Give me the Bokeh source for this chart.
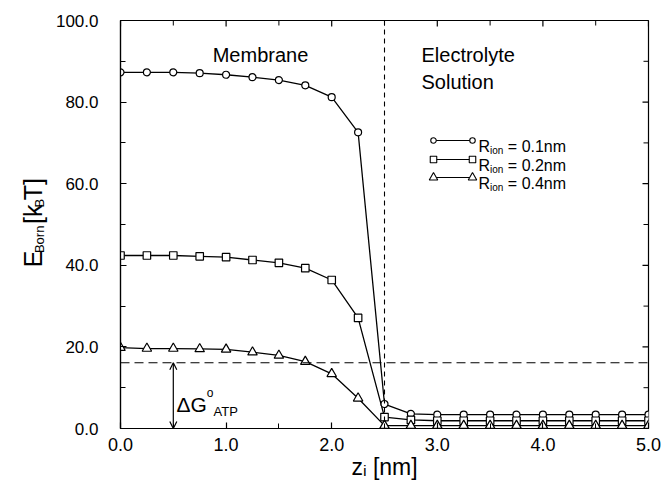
import math
from bokeh.plotting import figure
from bokeh.layouts import row
from bokeh.models import Label, Span, Arrow, OpenHead, SingleIntervalTicker, PrintfTickFormatter, Range1d
from bokeh.core.properties import value
from bokeh.embed import file_html
from bokeh.resources import INLINE

# ---------------- data ----------------
z_nm = [0.0, 0.25, 0.5, 0.75, 1.0, 1.25, 1.5, 1.75, 2.0, 2.25, 2.5,
        2.75, 3.0, 3.25, 3.5, 3.75, 4.0, 4.25, 4.5, 4.75, 5.0]
e_born_r01 = [87.3, 87.3, 87.3, 87.1, 86.7, 86.1, 85.4, 84.1, 81.2, 72.6, 6.0,
              3.6, 3.4, 3.4, 3.4, 3.4, 3.4, 3.4, 3.4, 3.4, 3.4]
e_born_r02 = [42.4, 42.4, 42.4, 42.2, 42.0, 41.3, 40.6, 39.3, 36.4, 27.1, 2.8,
              2.1, 1.9, 1.9, 1.9, 1.9, 1.9, 1.9, 1.9, 1.9, 1.9]
e_born_r04 = [19.8, 19.6, 19.6, 19.5, 19.4, 18.7, 17.9, 16.4, 13.4, 7.4, 0.7,
              0.7, 0.7, 0.7, 0.7, 0.7, 0.7, 0.7, 0.7, 0.7, 0.7]
series_radius = ["0.1nm", "0.2nm", "0.4nm"]
series_marker = ["circle", "square", "triangle"]
x_ticks_major = [0.0, 1.0, 2.0, 3.0, 4.0, 5.0]
x_ticks_minor = [0.5, 1.5, 2.5, 3.5, 4.5]
y_ticks_major = [0.0, 20.0, 40.0, 60.0, 80.0, 100.0]
y_ticks_minor = [10.0, 30.0, 50.0, 70.0, 90.0]
x_title = "zᵢ [nm]"
membrane_edge_nm = 2.5
dG_atp_kT = 16.1
dG_arrow_z = 0.5
x_start, x_end = 0.0, 5.0
y_start, y_end = 0.0, 100.0

# ---------------- layout ----------------
FONT = "Liberation Sans"
W, H = 663, 483
LW = 52            # strip holding the y title
BL, BR, BT, BB = 120, 15, 20, 55   # frame position in page pixels
FW, FH = W - BL - BR, H - BT - BB


def dx(px):
    return x_start + (px - BL) / FW * (x_end - x_start)


def dy(py):
    return y_start + (H - BB - py) / FH * (y_end - y_start)


CW = {'E': .667, 'B': .667, 'o': .556, 'r': .333, 'n': .556, ' ': .278, '[': .278,
      ']': .278, 'k': .5, 'T': .611, 'z': .5, 'i': .222, 'm': .833, 'R': .722,
      '=': .584, '0': .556, '1': .556, '2': .556, '4': .556, '.': .278,
      'Δ': .668, 'G': .778, 'A': .667, 'P': .667}


def tw(s, size):
    return sum(CW.get(c, .556) for c in s) * size


p = figure(width=W - LW, height=H, x_range=Range1d(x_start, x_end),
           y_range=Range1d(y_start, y_end), output_backend="svg", toolbar_location=None,
           min_border_left=BL - LW, min_border_right=BR, min_border_top=BT,
           min_border_bottom=BB, title_location=None)
p.background_fill_color = "white"
p.border_fill_color = "white"
p.outline_line_color = "black"
p.outline_line_width = 1.2
p.xgrid.visible = False
p.ygrid.visible = False


def style_axis(ax, ticker, size, standoff):
    ax.ticker = ticker
    ax.formatter = PrintfTickFormatter(format="%.1f")
    ax.axis_line_color = "black"
    ax.axis_line_width = 1.2
    ax.major_tick_line_color = "black"
    ax.minor_tick_line_color = "black"
    ax.major_tick_line_width = 1.2
    ax.minor_tick_line_width = 1.0
    ax.major_tick_in = 6
    ax.major_tick_out = 0
    ax.minor_tick_in = 5
    ax.minor_tick_out = 0
    ax.major_label_text_font = FONT
    ax.major_label_text_color = "black"
    ax.major_label_text_font_size = size
    ax.major_label_standoff = standoff


style_axis(p.xaxis[0], SingleIntervalTicker(interval=1, num_minor_ticks=2), "18px", 9)
style_axis(p.yaxis[0], SingleIntervalTicker(interval=20, num_minor_ticks=2), "17px", 22)
p.xaxis[0].axis_label = x_title
p.xaxis[0].axis_label_text_font = FONT
p.xaxis[0].axis_label_text_font_size = "23px"
p.xaxis[0].axis_label_text_font_style = "normal"
p.xaxis[0].axis_label_text_color = "black"
p.xaxis[0].axis_label_standoff = 0
p.yaxis[0].axis_label = None

# mirrored inward ticks on top and right edges
kx, ky = 6 / FW * (x_end - x_start), 6 / FH * (y_end - y_start)
mx, my = 5 / FW * (x_end - x_start), 5 / FH * (y_end - y_start)
p.segment(x0=x_ticks_major, y0=[y_end] * len(x_ticks_major), x1=x_ticks_major,
          y1=[y_end - ky] * len(x_ticks_major), line_color="black", line_width=1.2)
p.segment(x0=x_ticks_minor, y0=[y_end] * len(x_ticks_minor), x1=x_ticks_minor,
          y1=[y_end - my] * len(x_ticks_minor), line_color="black", line_width=1.0)
p.segment(x0=[x_end] * len(y_ticks_major), y0=y_ticks_major, x1=[x_end - kx] * len(y_ticks_major),
          y1=y_ticks_major, line_color="black", line_width=1.2)
p.segment(x0=[x_end] * len(y_ticks_minor), y0=y_ticks_minor, x1=[x_end - mx] * len(y_ticks_minor),
          y1=y_ticks_minor, line_color="black", line_width=1.0)

# reference lines
p.add_layout(Span(location=membrane_edge_nm, dimension="height", line_color="black",
                  line_width=1.1, line_dash="5 4"))
p.add_layout(Span(location=dG_atp_kT, dimension="width", line_color="black",
                  line_width=1.1, line_dash="9 5"))
p.add_layout(Arrow(x_start=dG_arrow_z, y_start=y_start, x_end=dG_arrow_z, y_end=dG_atp_kT,
                   line_color="black", line_width=1.2,
                   start=OpenHead(size=7, line_width=1.2, line_color="black"),
                   end=OpenHead(size=7, line_width=1.2, line_color="black")))

series = [e_born_r01, e_born_r02, e_born_r04]
msize = {"circle": 7, "square": 7.5, "triangle": 9.5}
for vals in series:
    p.line(z_nm, vals, line_color="black", line_width=1.3)
for vals, mk in zip(series, series_marker):
    p.scatter(z_nm, vals, marker=mk, size=msize[mk], fill_color="white",
              line_color="black", line_width=1.2)


def label_run(pieces, x_px, y_px):
    """horizontal text pieces inside the main frame: (text, size_px, baseline shift px; + = up)"""
    for txt, size, shift in pieces:
        s = txt.lstrip(" ")
        x_px += tw(txt[:len(txt) - len(s)], size)
        p.add_layout(Label(x=dx(x_px), y=dy(y_px - shift), text=s,
                           text_font=FONT, text_font_size=f"{size}px", text_color="black",
                           text_align="left", text_baseline="alphabetic"))
        x_px += tw(s, size)


# region texts
p.add_layout(Label(x=dx(260), y=dy(54), text="Membrane", text_font=FONT, text_font_size="20px",
                   text_align="center", text_baseline="alphabetic", text_color="black"))
p.add_layout(Label(x=dx(421), y=dy(54), text="Electrolyte", text_font=FONT, text_font_size="20px",
                   text_align="left", text_baseline="alphabetic", text_color="black"))
p.add_layout(Label(x=dx(421), y=dy(81), text="Solution", text_font=FONT, text_font_size="20px",
                   text_align="left", text_baseline="alphabetic", text_color="black"))

# Delta G label
label_run([("ΔG", 21, 0), ("o", 12, 11.5), ("ATP", 13, -7)], 176, 403.5)

# legend
leg_rows = [140, 159, 177]
leg_x0, leg_x1, leg_tx = 433, 472, 478
leg_msize = {"circle": 5.5, "square": 6.5, "triangle": 8.5}
for py, mk, rad in zip(leg_rows, series_marker, series_radius):
    p.line([dx(leg_x0), dx(leg_x1)], [dy(py), dy(py)], line_color="black", line_width=1.2)
    p.scatter([dx(leg_x0), dx(leg_x1)], [dy(py), dy(py)], marker=mk, size=leg_msize[mk],
              fill_color="white", line_color="black", line_width=1.1)
    label_run([("R", 16, 0), ("ion", 10, -4), (" = " + rad, 16, 0)], leg_tx, py + 6)


# ---------------- y-title strip ----------------
left = figure(width=LW, height=H, x_range=Range1d(0, LW), y_range=Range1d(0, H),
              x_axis_type=None, y_axis_type=None, output_backend="svg", toolbar_location=None,
              min_border=0, title_location=None)
left.outline_line_color = None
left.background_fill_color = "white"
left.border_fill_color = "white"


def vertical_run(f, pieces, x_px, y_px):
    """rotated text pieces, page pixels; (text, size_px, baseline shift px; + = up)"""
    for txt, size, shift in pieces:
        s = txt.lstrip(" ")
        y_px -= tw(txt[:len(txt) - len(s)], size)
        f.text(x=[x_px - shift], y=[H - y_px], text=[s], angle=math.pi / 2,
               text_font=value(FONT), text_font_size=value(f"{size}px"),
               text_color="black", text_align=value("left"), text_baseline=value("alphabetic"))
        y_px -= tw(s, size)


vertical_run(left, [("E", 25, 0), ("Born", 13, -7), (" [k", 25, 0), ("B", 13, -7), ("T]", 25, 0)],
             32, 292)

layout = row(left, p, spacing=0)

open("out.html", "w").write(file_html(layout, INLINE))
